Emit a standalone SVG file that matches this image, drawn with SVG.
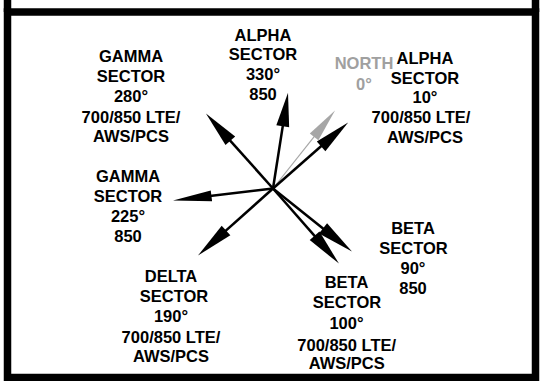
<svg xmlns="http://www.w3.org/2000/svg" width="540" height="381" viewBox="0 0 540 381">
<style>
.frame{fill:none;stroke:#000;stroke-width:7.5}
.shaft{stroke:#000;stroke-width:2.5;fill:none}
.head{fill:#000}
.gshaft{stroke:#a6a6a6;stroke-width:1.2;fill:none}
.ghead{fill:#a6a6a6}
text{font-family:"Liberation Sans",Arial,sans-serif;font-weight:bold;font-size:16.5px;text-anchor:middle;fill:#000}
.gray{fill:#a0a0a0}
</style>
<defs>
<g id="arrow"><line class="shaft" x1="0" y1="0" x2="70" y2="0"/><polygon class="head" points="0,0 -37,-6.5 -37,6.5"/></g>
</defs>
<rect x="0" y="0" width="540" height="381" fill="#fff"/>
<g id="frame">
<rect class="frame" x="7.5" y="12" width="528" height="365.5"/>
<line class="frame" x1="7.5" y1="0" x2="7.5" y2="12"/>
<line class="frame" x1="535.5" y1="0" x2="535.5" y2="12"/>
</g>
<g id="connectors">
<g id="north-arrow" transform="translate(273,188.5) rotate(-51.5)"><line class="gshaft" x1="0" y1="0" x2="70" y2="0"/><polygon class="ghead" points="99.6,0 66,-5.5 66,5.5"/></g>
<g id="a330" transform="translate(273,188.5) rotate(-81.1)"><line class="shaft" x1="0" y1="0" x2="70" y2="0"/><polygon class="head" points="97,0 63,-6.5 63,6.5"/></g>
<g id="a10" transform="translate(273,188.5) rotate(-41.3)"><line class="shaft" x1="0" y1="0" x2="70" y2="0"/><polygon class="head" points="100,0 64,-6.5 64,6.5"/></g>
<g id="g280" transform="translate(273,188.5) rotate(-131.8)"><line class="shaft" x1="0" y1="0" x2="70" y2="0"/><polygon class="head" points="100.6,0 64,-6.5 64,6.5"/></g>
<g id="g225" transform="translate(273,188.5) rotate(173.2)"><line class="shaft" x1="0" y1="0" x2="70" y2="0"/><polygon class="head" points="100.7,0 62,-5.5 62,5.5"/></g>
<g id="d190" transform="translate(273,188.5) rotate(138.2)"><line class="shaft" x1="0" y1="0" x2="70" y2="0"/><polygon class="head" points="100.6,0 63,-6.5 63,6.5"/></g>
<g id="b90" transform="translate(273,188.5) rotate(38.6)"><line class="shaft" x1="0" y1="0" x2="70" y2="0"/><polygon class="head" points="101,0 64,-6.5 64,6.5"/></g>
<g id="b100" transform="translate(273,188.5) rotate(48.7)"><line class="shaft" x1="0" y1="0" x2="70" y2="0"/><polygon class="head" points="99.9,0 63,-6.5 63,6.5"/></g>
</g>
<g id="gamma280">
<text x="131" y="62">GAMMA</text>
<text x="131" y="81.5">SECTOR</text>
<text x="131" y="101.5">280°</text>
<text x="131" y="122.5">700/850 LTE/</text>
<text x="131" y="141.5">AWS/PCS</text>
</g>
<g id="alpha330">
<text x="263" y="40.5">ALPHA</text>
<text x="263" y="60">SECTOR</text>
<text x="263" y="80">330°</text>
<text x="263" y="100">850</text>
</g>
<g id="north">
<text class="gray" x="364" y="69">NORTH</text>
<text class="gray" x="364" y="90">0°</text>
</g>
<g id="alpha10">
<text x="425" y="64">ALPHA</text>
<text x="425" y="84">SECTOR</text>
<text x="425" y="103">10°</text>
<text x="421" y="123">700/850 LTE/</text>
<text x="425" y="142.5">AWS/PCS</text>
</g>
<g id="gamma225">
<text x="128" y="181.5">GAMMA</text>
<text x="128" y="201.5">SECTOR</text>
<text x="128" y="221.5">225°</text>
<text x="128" y="241.5">850</text>
</g>
<g id="delta190">
<text x="171" y="281.5">DELTA</text>
<text x="174" y="301.5">SECTOR</text>
<text x="171" y="321.5">190°</text>
<text x="171" y="343">700/850 LTE/</text>
<text x="171" y="362">AWS/PCS</text>
</g>
<g id="beta90">
<text x="413" y="234">BETA</text>
<text x="413.5" y="254">SECTOR</text>
<text x="413" y="274">90°</text>
<text x="413" y="294">850</text>
</g>
<g id="beta100">
<text x="346.5" y="287.5">BETA</text>
<text x="347" y="308">SECTOR</text>
<text x="346.5" y="328.5">100°</text>
<text x="346.7" y="350.5">700/850 LTE/</text>
<text x="346.7" y="368.5">AWS/PCS</text>
</g>
</svg>
